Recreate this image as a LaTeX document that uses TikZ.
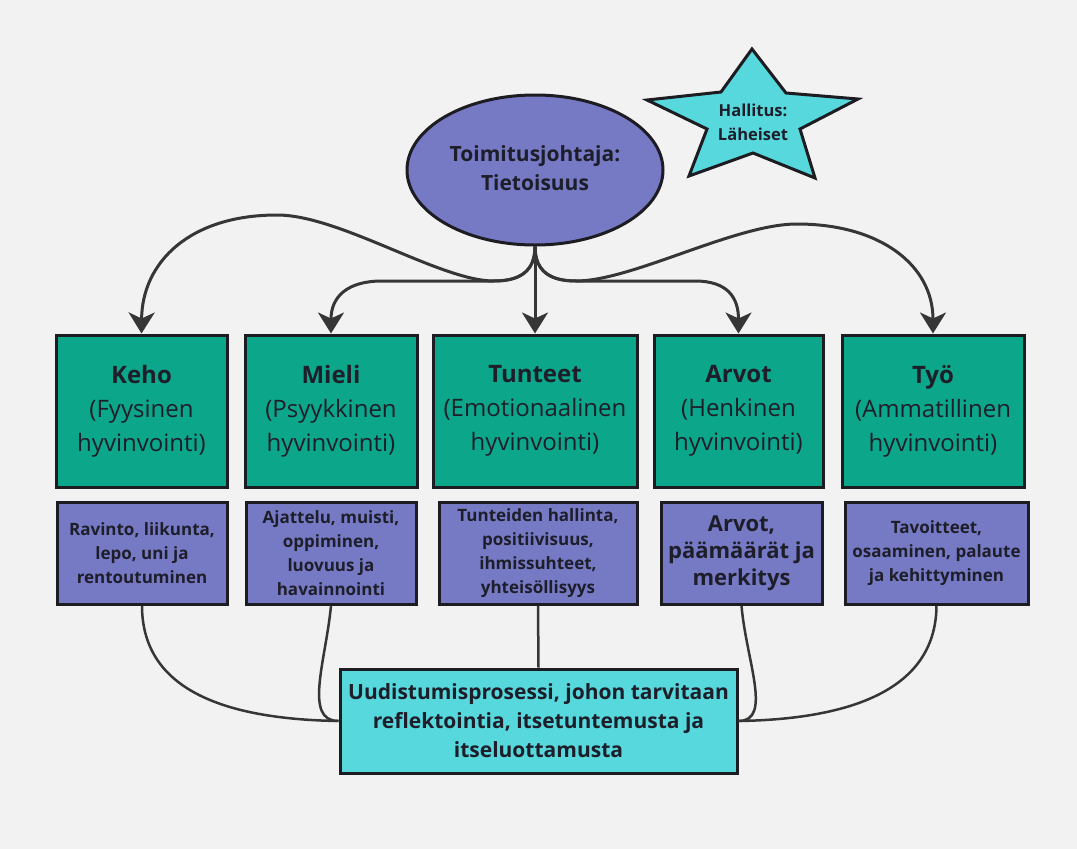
\documentclass[tikz,border=0pt]{standalone}
\usepackage{fontspec}
\setmainfont{Open Sans}
\usetikzlibrary{shapes.geometric,arrows.meta}
\definecolor{bg}{HTML}{F2F2F2}
\definecolor{grn}{HTML}{0CA68A}
\definecolor{prp}{HTML}{767AC4}
\definecolor{cyn}{HTML}{57D8DC}
\definecolor{edge}{HTML}{1C1C22}
\definecolor{ink}{HTML}{1E1E2A}
\definecolor{conn}{HTML}{363636}
\tikzset{
  greenbox/.style={draw=edge, line width=3pt, fill=grn, align=center, text=ink,
    minimum height=152pt, inner sep=0pt, font=\fontsize{24}{34}\selectfont},
  purplebox/.style={draw=edge, line width=3pt, fill=prp, align=center, text=ink,
    minimum height=102pt, inner sep=0pt, font=\bfseries\fontsize{17}{24}\selectfont},
  arrowline/.style={draw=conn, line width=3pt, -{Stealth[length=21pt,width=26pt,inset=6pt]}},
  plainline/.style={draw=conn, line width=2.5pt}
}
\begin{document}
\begin{tikzpicture}[x=1pt,y=-1pt]
\useasboundingbox (0,0) rectangle (1077,849);
\fill[bg] (0,0) rectangle (1077,849);

% CEO ellipse
\node[ellipse, draw=edge, line width=3pt, fill=prp, minimum width=256pt, minimum height=150pt,
      inner sep=0pt, text=ink] (ceo) at (535,170) {};
\node[align=center, text=ink, font=\bfseries\fontsize{21}{29}\selectfont] (ceotext) at (535,168)
      {Toimitusjohtaja:\\Tietoisuus};

% Star
\draw[edge, line width=3pt, fill=cyn, line join=miter]
  (752,49) -- (786,93) -- (858,99) -- (800,129) -- (815,178) -- (753,153)
  -- (689,176) -- (707,129) -- (647,100) -- (721,92) -- cycle;
\node[align=center, text=ink, font=\bfseries\fontsize{16.5}{24}\selectfont] (board) at (753,122)
  {Hallitus:\\Läheiset};

% Green boxes
\node[greenbox, minimum width=171pt] (keho) at (141.5,411) {\textbf{Keho}\\(Fyysinen\\hyvinvointi)};
\node[greenbox, minimum width=172pt] (mieli) at (331,411) {\textbf{Mieli}\\(Psyykkinen\\hyvinvointi)};
\node[greenbox, minimum width=204pt] (tunteet) at (535,411) {\textbf{Tunteet}\\(Emotionaalinen\\hyvinvointi)};
\node[greenbox, minimum width=169pt] (arvot) at (738.5,411) {\textbf{Arvot}\\(Henkinen\\hyvinvointi)};
\node[greenbox, minimum width=182pt] (tyo) at (933,411) {\textbf{Työ}\\(Ammatillinen\\hyvinvointi)};

% Purple boxes
\node[purplebox, minimum width=170pt] (ravinto) at (142,553) {Ravinto, liikunta,\\lepo, uni ja\\rentoutuminen};
\node[purplebox, minimum width=170pt] (ajattelu) at (331,553) {Ajattelu, muisti,\\oppiminen,\\luovuus ja\\havainnointi};
\node[purplebox, minimum width=198pt] (hallinta) at (538,553) {Tunteiden hallinta,\\positiivisuus,\\ihmissuhteet,\\yhteisöllisyys};
\node[purplebox, minimum width=161pt, font=\bfseries\fontsize{22}{27}\selectfont] (paamaarat) at (741.5,553) {Arvot,\\päämäärät ja\\merkitys};
\node[purplebox, minimum width=183pt] (tavoitteet) at (936.5,553) {Tavoitteet,\\osaaminen, palaute\\ja kehittyminen};

% Cyan box
\node[draw=edge, line width=3pt, fill=cyn, minimum width=397pt, minimum height=104pt, inner sep=0pt,
      align=center, text=ink, font=\bfseries\fontsize{21}{29}\selectfont] (uud) at (538.5,721)
      {Uudistumisprosessi, johon tarvitaan\\reflektointia, itsetuntemusta ja\\itseluottamusta};

% Top connectors
\draw[arrowline] (ceo.south) .. controls (535,272) and (519,281) .. (494,281)
  .. controls (440,281) and (340,215) .. (277,215)
  .. controls (190,215) and (142,262) .. (keho.north);
\draw[arrowline] (ceo.south) .. controls (535,272) and (519,281) .. (494,281)
  -- (382,281) .. controls (347,281) and (331,297) .. (mieli.north);
\draw[arrowline] (ceo.south) -- (tunteet.north);
\draw[arrowline] (ceo.south) .. controls (535,272) and (551,281) .. (576,281)
  -- (695,281) .. controls (727,281) and (738.5,297) .. (arvot.north);
\draw[arrowline] (ceo.south) .. controls (535,272) and (551,281) .. (576,281)
  .. controls (632,281) and (735,224) .. (797,224)
  .. controls (880,224) and (933,265) .. (tyo.north);

% Bottom connectors
\draw[plainline] (ravinto.south) .. controls (142,685) and (215,719) .. (uud.west);
\draw[plainline] (ajattelu.south) .. controls (326,660) and (303,721) .. (uud.west);
\draw[plainline] (hallinta.south) -- (uud.north);
\draw[plainline] (paamaarat.south) .. controls (746,660) and (773,721) .. (uud.east);
\draw[plainline] (tavoitteet.south) .. controls (936,685) and (860,719) .. (uud.east);
\end{tikzpicture}
\end{document}
